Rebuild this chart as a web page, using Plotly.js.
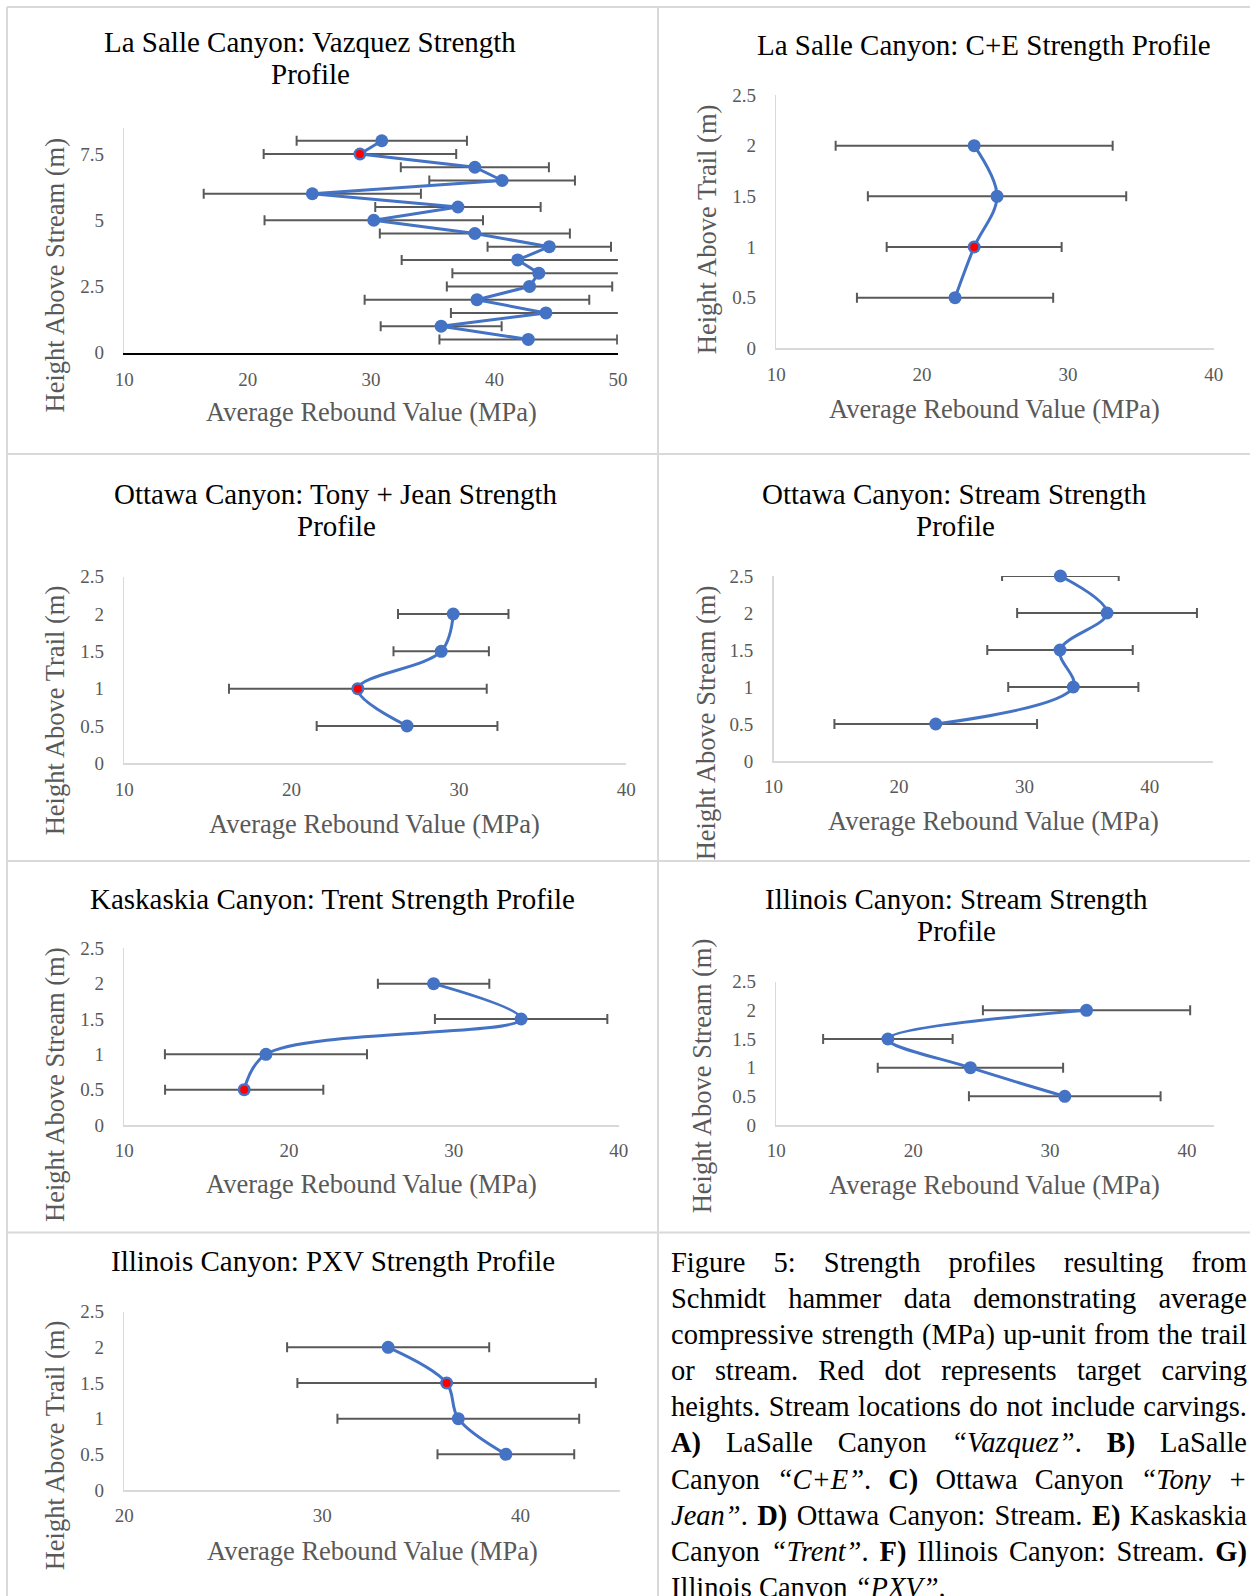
<!DOCTYPE html>
<html><head><meta charset="utf-8">
<script src="https://cdn.plot.ly/plotly-3.0.1.min.js"></script>
<style>
html,body{margin:0;padding:0;background:#fff;overflow:hidden;}
#wrap{position:relative;width:1250px;height:1596px;overflow:hidden;}
#chart{position:absolute;left:0;top:0;width:1250px;height:1596px;}
#caption{position:absolute;left:671px;top:1245px;width:576px;font-family:'Liberation Serif','Times New Roman',serif;font-size:28.5px;line-height:36.1px;color:#000;}
#caption .ln{text-align:justify;text-align-last:justify;}
#caption .last{text-align-last:left;}
</style></head><body>
<div id="wrap"><div id="chart"></div>
<div id="caption">
<div class="ln">Figure 5: Strength profiles resulting from</div>
<div class="ln">Schmidt hammer data demonstrating average</div>
<div class="ln">compressive strength (MPa) up-unit from the trail</div>
<div class="ln">or stream. Red dot represents target carving</div>
<div class="ln">heights. Stream locations do not include carvings.</div>
<div class="ln"><b>A)</b> LaSalle Canyon <i>“Vazquez”</i>. <b>B)</b> LaSalle</div>
<div class="ln">Canyon <i>“C+E”</i>. <b>C)</b> Ottawa Canyon <i>“Tony +</i></div>
<div class="ln"><i>Jean”</i>. <b>D)</b> Ottawa Canyon: Stream. <b>E)</b> Kaskaskia</div>
<div class="ln">Canyon <i>“Trent”</i>. <b>F)</b> Illinois Canyon: Stream. <b>G)</b></div>
<div class="ln last">Illinois Canyon <i>“PXV”</i>.</div>
</div>
</div>
<script>
// ---------- DATA ----------
const heightsA = [0.5, 1, 1.5, 2, 2.5, 3, 3.5, 4, 4.5, 5, 5.5, 6, 6.5, 7, 7.5, 8];
const valuesA  = [42.74, 35.68, 44.17, 38.58, 42.84, 43.59, 41.88, 44.44, 38.41, 30.22, 37.04, 25.24, 40.62, 38.41, 29.10, 30.87];
const errorsA  = [7.2, 4.9, 7.7, 9.1, 6.7, 7.0, 9.4, 5.0, 7.7, 8.85, 6.7, 8.8, 5.9, 6.0, 7.8, 6.9];
const targetA  = [7.5];

const heightsB = [0.5, 1, 1.5, 2];
const valuesB  = [22.26, 23.57, 25.14, 23.57];
const errorsB  = [6.73, 6.0, 8.86, 9.5];
const targetB  = [1];

const heightsC = [0.5, 1, 1.5, 2];
const valuesC  = [26.90, 23.96, 28.94, 29.66];
const errorsC  = [5.4, 7.7, 2.85, 3.3];
const targetC  = [1];

const heightsD = [0.5, 1, 1.5, 2, 2.5];
const valuesD  = [22.93, 33.90, 32.84, 36.59, 32.87];
const errorsD  = [8.08, 5.19, 5.8, 7.17, 4.65];
const targetD  = [];

const heightsE = [0.5, 1, 1.5, 2];
const valuesE  = [17.28, 18.60, 34.08, 28.77];
const errorsE  = [4.8, 6.13, 5.23, 3.38];
const targetE  = [0.5];

const heightsF = [0.5, 1, 1.5, 2];
const valuesF  = [31.07, 24.18, 18.15, 32.66];
const errorsF  = [7.0, 6.77, 4.73, 7.57];
const targetF  = [];

const heightsG = [0.5, 1, 1.5, 2];
const valuesG  = [39.26, 36.86, 36.27, 33.32];
const errorsG  = [3.45, 6.1, 7.53, 5.1];
const targetG  = [1.5];

const yTicksA     = [0, 2.5, 5, 7.5];
const yTickTextA  = ['0', '2.5', '5', '7.5'];
const yTicksHalf  = [0, 0.5, 1, 1.5, 2, 2.5];
const yTickTextHalf = ['0', '0.5', '1', '1.5', '2', '2.5'];
const xTicks10to50 = [10, 20, 30, 40, 50];
const xTicks10to40 = [10, 20, 30, 40];
const xTicks20to40 = [20, 30, 40];

const titlesA = ['La Salle Canyon: Vazquez Strength', 'Profile'];
const titlesB = ['La Salle Canyon: C+E Strength Profile'];
const titlesC = ['Ottawa Canyon: Tony + Jean Strength', 'Profile'];
const titlesD = ['Ottawa Canyon: Stream Strength', 'Profile'];
const titlesE = ['Kaskaskia Canyon: Trent Strength Profile'];
const titlesF = ['Illinois Canyon: Stream Strength', 'Profile'];
const titlesG = ['Illinois Canyon: PXV Strength Profile'];
const xTitle = 'Average Rebound Value (MPa)';
const yTitleStream = 'Height Above Stream (m)';
const yTitleTrail = 'Height Above Trail (m)';

// ---------- LAYOUT / STYLE ----------
const W = 1250, H = 1596;
const FONT = "'Liberation Serif', 'Times New Roman', serif";
const BLUE = '#4472C4', ERRC = '#595959', AXC = '#d9d9d9', TXT = '#595959';
const px = v => v / W, py = v => 1 - v / H;

const panels = [
  {h: heightsA, v: valuesA, e: errorsA, t: targetA, shape: 'linear', box: [124.2, 617.9, 127.5, 352.7], clipErr: true,
   xr: [10, 50], yr: [0, 8.5], xt: xTicks10to50, yt: yTicksA, ytt: yTickTextA, xline: '#000', xlw: 2,
   titles: titlesA, tpos: [[310, 42.5], [310, 74.5]], xtp: [371, 411.8], ytitle: yTitleStream, ytp: [54.5, 275]},
  {h: heightsB, v: valuesB, e: errorsB, t: targetB, shape: 'spline', box: [776.3, 1213.7, 95, 348.3], clipErr: false,
   xr: [10, 40], yr: [0, 2.5], xt: xTicks10to40, yt: yTicksHalf, ytt: yTickTextHalf, xline: AXC, xlw: 1.5,
   titles: titlesB, tpos: [[984.3, 44.5]], xtp: [994.5, 408.8], ytitle: yTitleTrail, ytp: [707, 229.2]},
  {h: heightsC, v: valuesC, e: errorsC, t: targetC, shape: 'spline', box: [124.2, 626.3, 576.7, 763.3], clipErr: false,
   xr: [10, 40], yr: [0, 2.5], xt: xTicks10to40, yt: yTicksHalf, ytt: yTickTextHalf, xline: AXC, xlw: 1.5,
   titles: titlesC, tpos: [[336.3, 493.5], [336.3, 526.2]], xtp: [374.6, 823.7], ytitle: yTitleTrail, ytp: [54.5, 710.8]},
  {h: heightsD, v: valuesD, e: errorsD, t: targetD, shape: 'spline', box: [773.6, 1212.5, 576, 761], clipErr: false,
   xr: [10, 45], yr: [0, 2.5], xt: xTicks10to40, yt: yTicksHalf, ytt: yTickTextHalf, xline: AXC, xlw: 1.5,
   titles: titlesD, tpos: [[954.8, 493.5], [955, 526.2]], xtp: [993.4, 821], ytitle: yTitleStream, ytp: [706, 723.3]},
  {h: heightsE, v: valuesE, e: errorsE, t: targetE, shape: 'spline', box: [124.2, 618.7, 948.3, 1125], clipErr: false,
   xr: [10, 40], yr: [0, 2.5], xt: xTicks10to40, yt: yTicksHalf, ytt: yTickTextHalf, xline: AXC, xlw: 1.5,
   titles: titlesE, tpos: [[332.3, 898.5]], xtp: [371.2, 1184.4], ytitle: yTitleStream, ytp: [54.5, 1084.5]},
  {h: heightsF, v: valuesF, e: errorsF, t: targetF, shape: 'spline', box: [776.3, 1214.4, 981.7, 1125], clipErr: false,
   xr: [10, 42], yr: [0, 2.5], xt: xTicks10to40, yt: yTicksHalf, ytt: yTickTextHalf, xline: AXC, xlw: 1.5,
   titles: titlesF, tpos: [[956.7, 898.5], [956.5, 931.2]], xtp: [994.8, 1185.1], ytitle: yTitleStream, ytp: [701.5, 1075.8]},
  {h: heightsG, v: valuesG, e: errorsG, t: targetG, shape: 'spline', box: [124.2, 619.6, 1311.7, 1490], clipErr: false,
   xr: [20, 45], yr: [0, 2.5], xt: xTicks20to40, yt: yTicksHalf, ytt: yTickTextHalf, xline: AXC, xlw: 1.5,
   titles: titlesG, tpos: [[333.2, 1260.9]], xtp: [372.5, 1551.1], ytitle: yTitleTrail, ytp: [54.5, 1445.8]}
];

const data = [];
const annotations = [];
const layout = {
  width: W, height: H, margin: {l: 0, r: 0, t: 0, b: 0},
  paper_bgcolor: '#fff', plot_bgcolor: 'rgba(0,0,0,0)',
  showlegend: false, hovermode: false,
  font: {family: FONT, color: TXT},
  annotations: annotations,
  shapes: []
};

panels.forEach((p, i) => {
  const n = i === 0 ? '' : String(i + 1);
  const xa = 'x' + n, ya = 'y' + n;
  layout['xaxis' + n] = {
    domain: [px(p.box[0]), px(p.box[1])], anchor: ya, range: p.xr,
    tickmode: 'array', tickvals: p.xt, ticktext: p.xt.map(String),
    showgrid: false, zeroline: false, showline: true, linecolor: p.xline, linewidth: p.xlw,
    ticks: '', ticklabelstandoff: 8, tickfont: {family: FONT, size: 19, color: TXT}, fixedrange: true
  };
  layout['yaxis' + n] = {
    domain: [py(p.box[3]), py(p.box[2])], anchor: xa, range: p.yr,
    tickmode: 'array', tickvals: p.yt, ticktext: p.ytt,
    showgrid: false, zeroline: false, showline: true, linecolor: AXC, linewidth: 1.5,
    ticks: '', ticklabelstandoff: 15, tickfont: {family: FONT, size: 19, color: TXT}, fixedrange: true
  };
  // error bars (drawn first, beneath the line)
  data.push({type: 'scatter', mode: 'markers', x: p.v, y: p.h, xaxis: xa, yaxis: ya, cliponaxis: p.clipErr,
    marker: {size: 1, color: 'rgba(0,0,0,0)'},
    error_x: {type: 'data', array: p.e, visible: true, color: ERRC, thickness: 2, width: 5}});
  // profile line with markers
  data.push({type: 'scatter', mode: 'lines+markers', x: p.v, y: p.h, xaxis: xa, yaxis: ya, cliponaxis: false,
    line: {color: BLUE, width: 3, shape: p.shape, smoothing: 1},
    marker: {size: 13, color: BLUE}});
  // target carving heights (red dots)
  const tx = p.t.map(hh => p.v[p.h.indexOf(hh)]);
  if (p.t.length) data.push({type: 'scatter', mode: 'markers', x: tx, y: p.t, xaxis: xa, yaxis: ya, cliponaxis: false,
    marker: {size: 8, color: '#ff0000'}});
  // titles
  p.titles.forEach((txt, k) => annotations.push({text: txt, xref: 'paper', yref: 'paper',
    x: px(p.tpos[k][0]), y: py(p.tpos[k][1]), xanchor: 'center', yanchor: 'middle', showarrow: false,
    font: {family: FONT, size: 29, color: '#000'}}));
  annotations.push({text: xTitle, xref: 'paper', yref: 'paper', x: px(p.xtp[0]), y: py(p.xtp[1]),
    xanchor: 'center', yanchor: 'middle', showarrow: false, font: {family: FONT, size: 26.5, color: TXT}});
  annotations.push({text: p.ytitle, xref: 'paper', yref: 'paper', x: px(p.ytp[0]), y: py(p.ytp[1]),
    xanchor: 'center', yanchor: 'middle', textangle: -90, showarrow: false, font: {family: FONT, size: 26.5, color: TXT}});
});

// table cell borders
const BC = '#d9d9d9';
[7, 454, 861, 1232.5].forEach(yy => layout.shapes.push({type: 'line', xref: 'paper', yref: 'paper',
  x0: px(7), x1: 1, y0: py(yy), y1: py(yy), line: {color: BC, width: 2}}));
[7, 658].forEach(xx => layout.shapes.push({type: 'line', xref: 'paper', yref: 'paper',
  x0: px(xx), x1: px(xx), y0: py(7), y1: 0, line: {color: BC, width: 2}}));

Plotly.newPlot('chart', data, layout, {staticPlot: true, displayModeBar: false});
</script>
</body></html>
